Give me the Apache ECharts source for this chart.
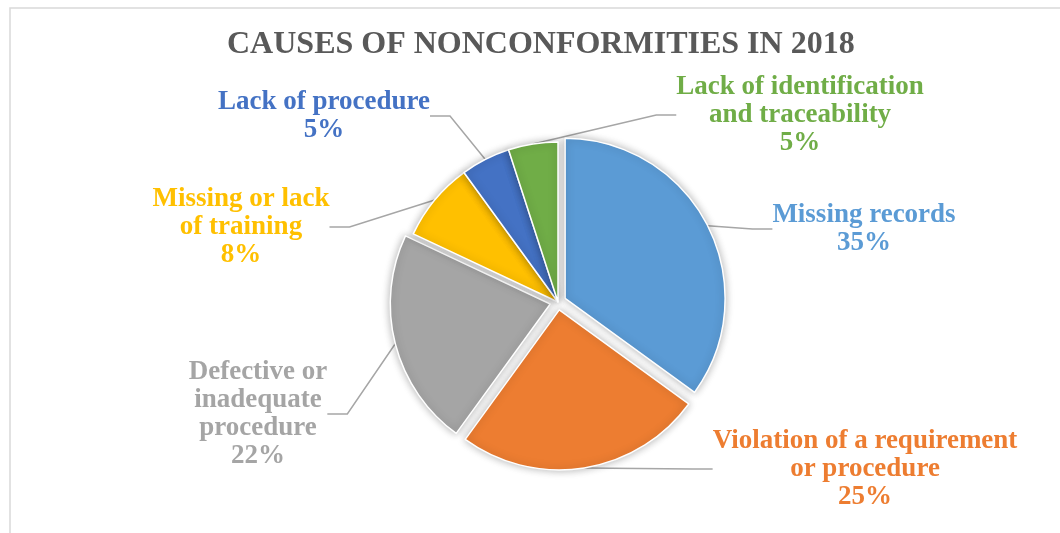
<!DOCTYPE html>
<html>
<head>
<meta charset="utf-8">
<script src="https://cdn.jsdelivr.net/npm/echarts@6/dist/echarts.min.js"></script>
<style>
  html, body { margin: 0; padding: 0; background: #fff; }
  #chart { width: 1060px; height: 533px; }
</style>
</head>
<body>
<div id="chart"></div>
<script>
const causes = [
  'Missing records',
  'Violation of a requirement\nor procedure',
  'Defective or\ninadequate\nprocedure',
  'Missing or lack\nof training',
  'Lack of procedure',
  'Lack of identification\nand traceability'
]
const shares = [35, 25, 22, 8, 5, 5]
const colors = ['#5b9bd5', '#ed7d31', '#a5a5a5', '#ffc000', '#4472c4', '#70ad47']
const exploded = [true, true, true, false, false, false]

// label block centres
const labelPos = [
  [864, 229], [865, 469], [258, 414], [241, 227], [324, 116], [800, 115]
]

const cx = 558
const cy = 302
const explodeOffset = 8
const total = shares.reduce((a, b) => a + b, 0)

const chart = echarts.init(document.getElementById('chart'))

// one pie per slice so exploded slices can be pushed out along their bisector
let cum = 0
const series = causes.map((name, i) => {
  const start = cum / total * 360
  const mid = (cum + shares[i] / 2) / total * 360 * Math.PI / 180
  cum += shares[i]
  const off = exploded[i] ? explodeOffset : 0
  return {
    type: 'pie',
    center: [cx + off * Math.sin(mid), cy - off * Math.cos(mid)],
    radius: 160,
    startAngle: 90 - start,
    clockwise: true,
    silent: true,
    emphasis: { disabled: true },
    data: [
      {
        name: name,
        value: shares[i],
        itemStyle: {
          color: colors[i],
          borderColor: '#fff',
          borderWidth: 1.5,
          shadowBlur: 8,
          shadowColor: 'rgba(0,0,0,0.3)'
        },
        label: {
          show: true,
          position: 'outside',
          formatter: '{b}\n{c}%',
          color: colors[i],
          fontFamily: 'Liberation Serif',
          fontWeight: 'bold',
          fontSize: 27,
          lineHeight: 28,
          align: 'center'
        },
        labelLine: {
          show: true,
          length: 20,
          length2: 20,
          lineStyle: { color: '#a6a6a6', width: 1.5 }
        }
      },
      {
        name: '',
        value: total - shares[i],
        itemStyle: { color: 'rgba(0,0,0,0)', borderWidth: 0, shadowBlur: 0 },
        label: { show: false },
        labelLine: { show: false }
      }
    ],
    labelLayout: function (params) {
      if (params.dataIndex !== 0) return {}
      const p = labelPos[i]
      return { x: p[0], y: p[1], align: 'center', verticalAlign: 'middle' }
    }
  }
})

chart.setOption({
  animation: false,
  title: {
    text: 'CAUSES OF NONCONFORMITIES IN 2018',
    left: 222,
    top: 24,
    textStyle: {
      fontFamily: 'Liberation Serif',
      fontWeight: 'bold',
      fontSize: 32,
      color: '#595959'
    }
  },
  graphic: [{
    type: 'rect',
    shape: { x: 10, y: 8, width: 1100, height: 600 },
    style: { fill: 'none', stroke: '#d9d9d9', lineWidth: 1.5 },
    silent: true
  }],
  series: series
})
</script>
</body>
</html>
